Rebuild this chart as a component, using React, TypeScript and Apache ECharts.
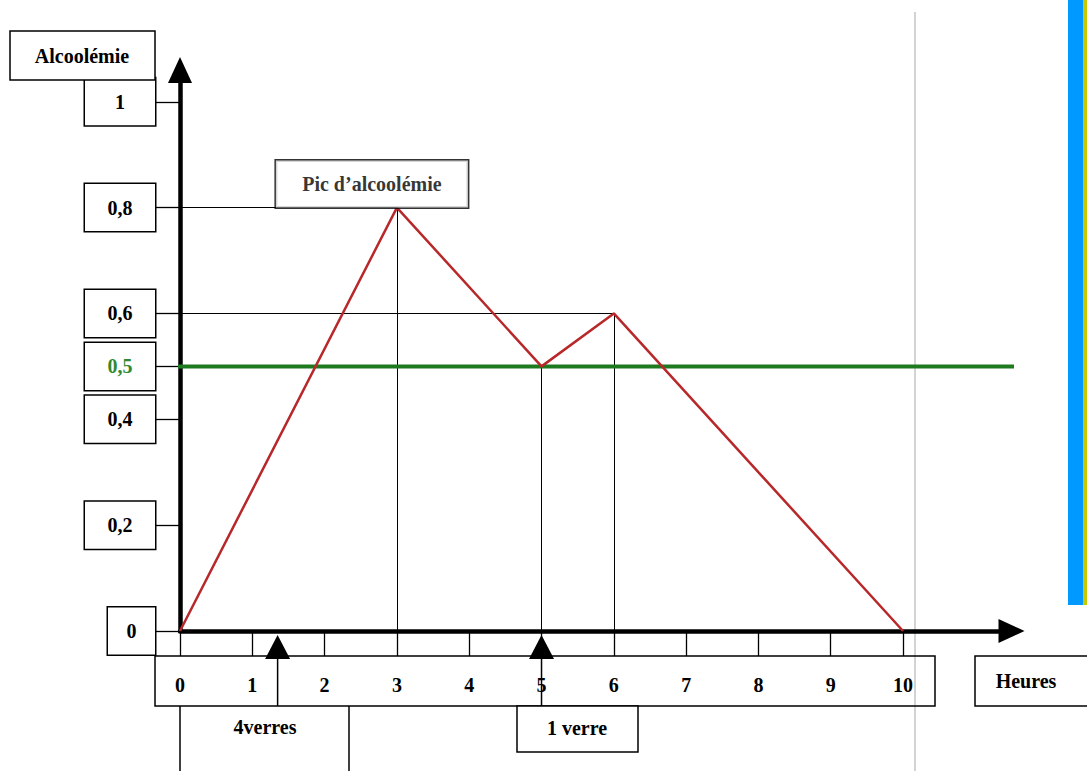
import React, { useEffect, useRef } from 'react';
import * as echarts from 'echarts';

// ---- data ----
const hours = [0, 3, 5, 6, 10];
const alcoolemie = [0, 0.8, 0.5, 0.6, 0];
const yTicks = [0, 0.2, 0.4, 0.5, 0.6, 0.8, 1];
const xTicks = [0, 1, 2, 3, 4, 5, 6, 7, 8, 9, 10];
const legalLimit = 0.5;
const limitSpan = [-0.35, 11.65];
const drinkTimes = [1.35, 5];
const drinkLabels = ['4verres', '1 verre'];
const peakLabel = 'Pic d’alcoolémie';
const yAxisName = 'Alcoolémie';
const xAxisName = 'Heures';

const FONT = '"Liberation Serif", "Times New Roman", serif';
const FS = 20;

const fmt = (v: number) => String(v).replace('.', ',');

export default function App() {
  const ref = useRef<HTMLDivElement>(null);

  useEffect(() => {
    if (!ref.current) return;
    const chart = echarts.init(ref.current, undefined, { renderer: 'svg' });

    const boxBase = {
      height: 47,
      lineHeight: 47,
      align: 'center',
      verticalAlign: 'middle',
      borderColor: '#000',
      borderWidth: 1.5,
      fontFamily: FONT,
      fontWeight: 'bold',
      fontSize: FS,
      color: '#000',
      backgroundColor: '#fff',
    };

    const peakIdx = alcoolemie.indexOf(Math.max(...alcoolemie));

    const guides: any[] = [];
    hours.forEach((h, i) => {
      const v = alcoolemie[i];
      if (v > 0) {
        guides.push([{ coord: [h, v] }, { coord: [h, 0] }]);
        if (v !== legalLimit) guides.push([{ coord: [0, v] }, { coord: [h, v] }]);
      }
    });

    const textStyle = (text: string, x: number, y: number, fill = '#000') => ({
      type: 'text',
      x,
      y,
      style: {
        text,
        fill,
        font: `bold ${FS}px ${FONT}`,
        align: 'center',
        verticalAlign: 'middle',
      },
      z: 20,
    });

    const option: any = {
      animation: false,
      backgroundColor: '#fff',
      grid: { left: 180, right: 75.5, top: 70, bottom: 140, containLabel: false, outerBoundsMode: 'none' },
      xAxis: {
        type: 'value',
        min: 0,
        max: 11.5,
        axisLine: {
          show: true,
          onZero: true,
          symbol: ['none', 'triangle'],
          symbolSize: [24, 26],
          lineStyle: { color: '#000', width: 4.5 },
        },
        axisTick: { show: true, customValues: xTicks, length: 25, lineStyle: { color: '#000', width: 1.3 } },
        axisLabel: {
          show: true,
          customValues: xTicks,
          margin: 44,
          fontFamily: FONT,
          fontWeight: 'bold',
          fontSize: FS,
          color: '#000',
        },
        splitLine: { show: false },
      },
      yAxis: {
        type: 'value',
        min: 0,
        max: 1.06,
        axisLine: {
          show: true,
          symbol: ['none', 'triangle'],
          symbolSize: [24, 26],
          lineStyle: { color: '#000', width: 4.5 },
        },
        axisTick: { show: true, customValues: yTicks, length: 25, lineStyle: { color: '#000', width: 1.3 } },
        axisLabel: {
          show: true,
          customValues: yTicks,
          margin: 25,
          fontFamily: FONT,
          fontWeight: 'bold',
          fontSize: FS,
          formatter: (v: number) =>
            v === 0 ? '{z|0}' : v === legalLimit ? `{g|${fmt(v)}}` : `{b|${fmt(v)}}`,
          rich: {
            b: { ...boxBase, width: 70 },
            z: { ...boxBase, width: 47 },
            g: { ...boxBase, width: 70, color: '#2f8a2f' },
          },
        },
        splitLine: { show: false },
      },
      series: [
        {
          type: 'line',
          data: limitSpan.map((x) => [x, legalLimit]),
          symbol: 'none',
          clip: false,
          silent: true,
          lineStyle: { color: '#1e7a1e', width: 4 },
          z: 3,
        },
        {
          type: 'line',
          data: hours.map((h, i) => [h, alcoolemie[i]]),
          symbol: 'none',
          clip: false,
          silent: true,
          lineStyle: { color: '#b8282a', width: 2.5 },
          z: 5,
          markLine: {
            silent: true,
            symbol: ['none', 'none'],
            label: { show: false },
            lineStyle: { color: '#000', width: 1, type: 'solid' },
            data: guides,
            z: 2,
          },
        },
        {
          type: 'scatter',
          data: [[hours[peakIdx], alcoolemie[peakIdx]]],
          symbolSize: 0.1,
          itemStyle: { color: 'rgba(0,0,0,0)' },
          silent: true,
          z: 6,
          label: {
            show: true,
            position: 'top',
            distance: 0,
            offset: [-25, 0],
            color: '#000',
            formatter: `{p|${peakLabel}}`,
            rich: { p: { ...boxBase, width: 192 } },
          },
        },
        {
          type: 'custom',
          data: drinkTimes.map((t) => [t, 0]),
          clip: false,
          silent: true,
          z: 7,
          renderItem: (params: any, api: any) => {
            const p = api.coord([api.value(0), 0]);
            return {
              type: 'group',
              children: [
                {
                  type: 'polygon',
                  shape: {
                    points: [
                      [p[0], p[1] + 4],
                      [p[0] - 12.5, p[1] + 28],
                      [p[0] + 12.5, p[1] + 28],
                    ],
                  },
                  style: { fill: '#000' },
                },
                {
                  type: 'line',
                  shape: { x1: p[0], y1: p[1] + 28, x2: p[0], y2: p[1] + 75 },
                  style: { stroke: '#000', lineWidth: 1.5 },
                },
              ],
            };
          },
        },
      ],
      graphic: [
        { type: 'line', shape: { x1: 915, y1: 12, x2: 915, y2: 771 }, style: { stroke: '#c4c4c4', lineWidth: 1.5 }, z: 0 },
        { type: 'rect', shape: { x: 1068, y: 0, width: 15, height: 605 }, style: { fill: '#0099ff' }, z: 1 },
        { type: 'rect', shape: { x: 1083, y: 0, width: 4, height: 605 }, style: { fill: '#c8c800' }, z: 1 },
        { type: 'rect', shape: { x: 10, y: 31, width: 145, height: 49 }, style: { fill: '#fff', stroke: '#000', lineWidth: 1.5 }, z: 10 },
        textStyle(yAxisName, 82, 56),
        { type: 'rect', shape: { x: 155, y: 656, width: 780, height: 50 }, style: { fill: 'none', stroke: '#000', lineWidth: 1.5 }, z: 10 },
        { type: 'rect', shape: { x: 975, y: 656, width: 130, height: 50 }, style: { fill: '#fff', stroke: '#000', lineWidth: 1.5 }, z: 10 },
        textStyle(xAxisName, 1026, 681),
        { type: 'line', shape: { x1: 180, y1: 706, x2: 180, y2: 771 }, style: { stroke: '#000', lineWidth: 1.5 }, z: 10 },
        { type: 'line', shape: { x1: 349, y1: 706, x2: 349, y2: 771 }, style: { stroke: '#000', lineWidth: 1.5 }, z: 10 },
        textStyle(drinkLabels[0], 265, 727),
        { type: 'rect', shape: { x: 517, y: 706, width: 121, height: 46 }, style: { fill: '#fff', stroke: '#000', lineWidth: 1.5 }, z: 10 },
        textStyle(drinkLabels[1], 577, 728),
      ],
    };

    chart.setOption(option);
    return () => chart.dispose();
  }, []);

  return (
    <div
      ref={ref}
      style={{ position: 'absolute', left: 0, top: 0, width: 1087, height: 771, background: '#fff' }}
    />
  );
}
